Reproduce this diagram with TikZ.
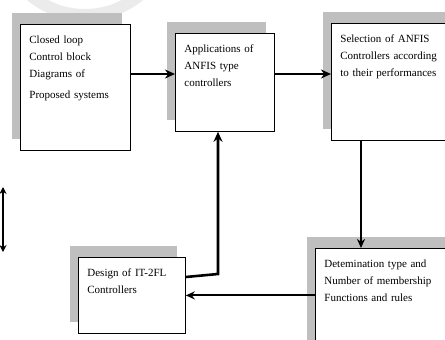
\documentclass[tikz,border=0pt]{standalone}
\usepackage{fontspec}
\setmainfont{Liberation Serif}
\usetikzlibrary{arrows.meta, shadows, calc}

\begin{document}
\begin{tikzpicture}[
    x=1pt, y=-1pt,
    stepbox/.style = {rectangle, draw=black, fill=white, line width=0.8pt, anchor=north west, align=left, font=\fontsize{11}{17}\selectfont, inner xsep=9pt, inner ysep=8pt, text height=11pt, general shadow={fill=black!25, shadow xshift=-8pt, shadow yshift=11pt}},
    flow/.style = {draw=black, line width=2.6pt, -{Stealth[length=10pt,width=9pt]}},
    thinflow/.style = {draw=black, line width=1.9pt, -{Stealth[length=9pt,width=8pt]}}
]
\clip (0,0) rectangle (445,340);

% faint watermark arc
\draw[black!8, line width=12pt] (85,-70) circle (85);

\node (loop) [stepbox, text width=92pt, text depth=99pt] at (20,24) {Closed loop\\Control block\\Diagrams of\\[4pt]Proposed systems};
\node (anfis) [stepbox, text width=81pt, text depth=71pt] at (175,33) {Applications of\\ANFIS type\\controllers};
\node (select) [stepbox, text width=112pt, text depth=90pt] at (331,23) {Selection of ANFIS\\Controllers according\\to their performances};
\node (member) [stepbox, text width=132pt, text depth=93pt] at (315,248) {Detemination type and\\Number of membership\\Functions and rules};
\node (design) [stepbox, text width=89pt, text depth=49pt] at (78,257) {Design of IT-2FL\\Controllers};

\coordinate (row) at ([yshift=-50pt]loop.north east);
\coordinate (drop) at ([xshift=30pt]select.south west);
\coordinate (bend) at (218,274);
\coordinate (up) at (3,187);
\coordinate (down) at (3,252);

\draw [flow] (row) -- (row -| anfis.west);
\draw [flow] (row -| anfis.east) -- (row -| select.west);
\draw [thinflow] (drop) -- (drop |- member.north);
\draw [thinflow] (member.west |- design.east) -- (design.east);
\draw [flow] ([yshift=-20pt]design.north east) -- (bend) -- (bend |- anfis.south);
\draw [line width=1.4pt, {Stealth[length=7pt,width=7pt]}-{Stealth[length=7pt,width=7pt]}] (up) -- (down);

\end{tikzpicture}
\end{document}
